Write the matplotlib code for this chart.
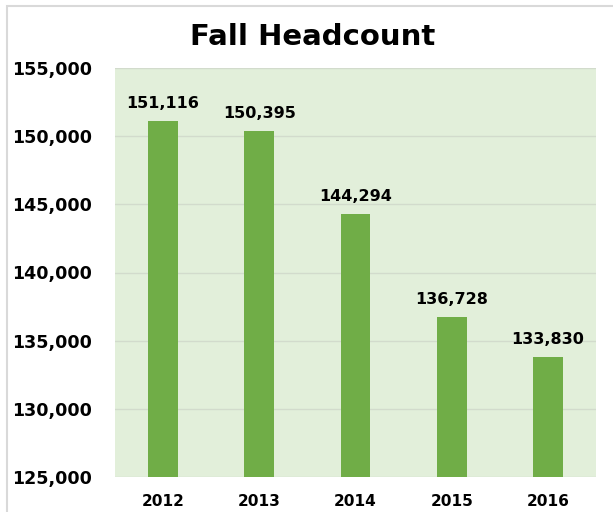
import matplotlib
matplotlib.use("Agg")
import matplotlib.pyplot as plt
from matplotlib.patches import Rectangle
from matplotlib.ticker import FuncFormatter

years = ["2012", "2013", "2014", "2015", "2016"]
headcount = [151116, 150395, 144294, 136728, 133830]

plt.rcParams['font.family'] = ['DejaVu Sans']

W, H = 613, 512
fig = plt.figure(figsize=(W / 100, H / 100), dpi=100)
fig.patches.append(Rectangle((7 / W, -0.1), 2, 1.1 - 5.5 / H, transform=fig.transFigure,
                             fill=False, edgecolor='#d9d9d9', linewidth=1.5))
ax = fig.add_axes([115 / W, 1 - 477 / H, (596 - 115) / W, (477 - 68) / H])
ax.set_facecolor('#e2efda')

x = range(len(years))
ax.bar(x, headcount, width=0.31, color='#70ad47', zorder=3)
ax.set_ylim(125000, 155000)
ax.set_xlim(-0.5, len(years) - 0.5)
ax.set_yticks(range(125000, 155001, 5000))
ax.yaxis.set_major_formatter(FuncFormatter(lambda v, p: f"{int(v):,}"))
ax.set_xticks(list(x))
ax.set_xticklabels(years)
ax.grid(axis='y', color='#d2dbcc', linewidth=1, zorder=0)
for s in ax.spines.values():
    s.set_visible(False)
ax.tick_params(length=0)
for lab in ax.get_yticklabels():
    lab.set_fontsize(12.6)
    lab.set_fontweight('bold')
ax.tick_params(axis='y', pad=16.5)
for lab in ax.get_xticklabels():
    lab.set_fontsize(11.1)
    lab.set_fontweight('bold')
ax.tick_params(axis='x', pad=12)

for xi, v in zip(x, headcount):
    ax.annotate(f"{v:,}", (xi, v), xytext=(0, 7), textcoords='offset points',
                ha='center', va='bottom', fontsize=11.5, fontweight='bold')

fig.text(313 / W, 1 - 37 / H, "Fall Headcount", ha='center', va='center',
         fontsize=21, fontweight='bold')

fig.savefig("out.png", dpi=100, facecolor='white')
